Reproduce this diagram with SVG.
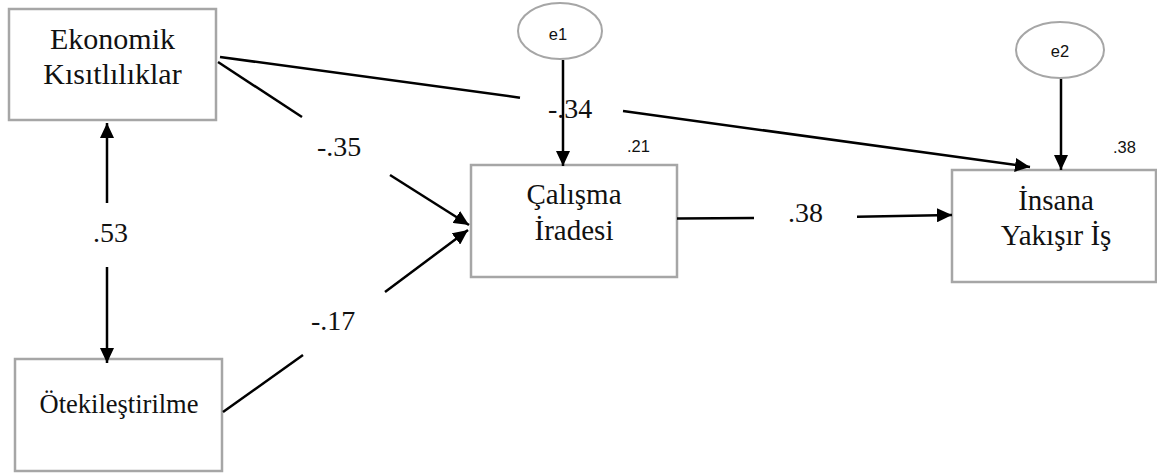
<svg xmlns="http://www.w3.org/2000/svg" width="1157" height="475" viewBox="0 0 1157 475">
<style>
.box{fill:#fff;stroke:#a6a6a6;stroke-width:2.5}
.ell{fill:#fff;stroke:#a6a6a6;stroke-width:2}
.lbl{font-family:"Liberation Serif","Times New Roman",serif;font-size:29px;fill:#111;text-anchor:middle}
.num{font-family:"Liberation Serif","Times New Roman",serif;font-size:28px;fill:#111}
.sm{font-family:"Liberation Sans",Arial,sans-serif;font-size:16.5px;fill:#111}
.ln{stroke:#000;stroke-width:2.5;fill:none}
</style>
<defs>
<marker id="ah" viewBox="0 0 15 14" refX="15" refY="7" markerWidth="15" markerHeight="14" markerUnits="userSpaceOnUse" orient="auto-start-reverse">
<path d="M0,0 L15,7 L0,14 z" fill="#000"/>
</marker>
</defs>
<g id="ekonomik">
<rect class="box" x="9" y="9" width="207" height="111"/>
<text class="lbl" x="112.5" y="49" style="font-size:30px">Ekonomik</text>
<text class="lbl" x="112.5" y="84" style="font-size:30px">Kısıtlılıklar</text>
</g>
<g id="otekilestirilme">
<rect class="box" x="15" y="359" width="207" height="112"/>
<text class="lbl" x="119" y="413" style="font-size:26.5px">Ötekileştirilme</text>
</g>
<g id="calisma">
<rect class="box" x="471" y="165" width="206" height="112"/>
<text class="lbl" x="574" y="204">Çalışma</text>
<text class="lbl" x="574" y="240">İradesi</text>
<text class="sm" x="627" y="152">.21</text>
</g>
<g id="insana">
<rect class="box" x="952" y="170" width="204" height="112"/>
<text class="lbl" x="1056" y="210">İnsana</text>
<text class="lbl" x="1056" y="245">Yakışır İş</text>
<text class="sm" x="1113" y="153">.38</text>
</g>
<g id="e1">
<ellipse class="ell" cx="560" cy="31" rx="42" ry="28"/>
<text class="sm" x="558" y="40" text-anchor="middle">e1</text>
</g>
<g id="e2">
<ellipse class="ell" cx="1060" cy="50" rx="44" ry="28"/>
<text class="sm" x="1060" y="57" text-anchor="middle">e2</text>
</g>
<g id="connectors">
<line class="ln" x1="220" y1="57" x2="520" y2="97.7"/>
<line class="ln" x1="623" y1="111" x2="1030" y2="167" marker-end="url(#ah)"/>
<line class="ln" x1="218" y1="62" x2="302" y2="117"/>
<line class="ln" x1="390" y1="175" x2="469" y2="225" marker-end="url(#ah)"/>
<line class="ln" x1="223" y1="412" x2="303" y2="355"/>
<line class="ln" x1="385" y1="292" x2="468" y2="230" marker-end="url(#ah)"/>
<line class="ln" x1="677" y1="218.5" x2="754" y2="218"/>
<line class="ln" x1="857" y1="216.7" x2="952" y2="215" marker-end="url(#ah)"/>
<line class="ln" x1="563" y1="60" x2="563" y2="166" marker-end="url(#ah)"/>
<line class="ln" x1="1061" y1="79" x2="1061" y2="170" marker-end="url(#ah)"/>
<line class="ln" x1="107" y1="123" x2="107" y2="203" marker-start="url(#ah)"/>
<line class="ln" x1="107" y1="267" x2="107" y2="363" marker-end="url(#ah)"/>
<text class="num" x="548" y="118">-.34</text>
<text class="num" x="317" y="156">-.35</text>
<text class="num" x="311" y="330">-.17</text>
<text class="num" x="93" y="242">.53</text>
<text class="num" x="788" y="222">.38</text>
</g>
</svg>
